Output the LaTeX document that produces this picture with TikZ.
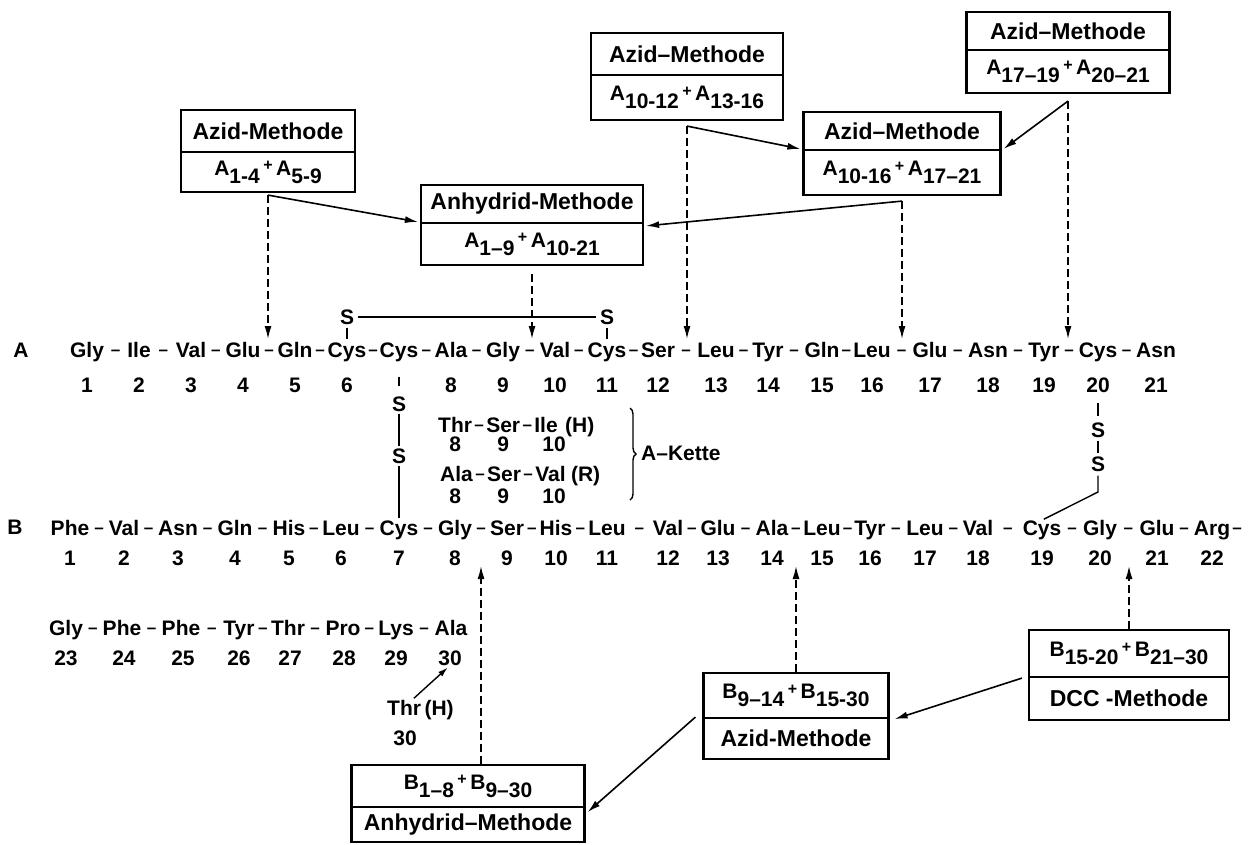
\documentclass[tikz,border=0pt]{standalone}
\usepackage{fontspec}
\setmainfont{Liberation Sans}
\usetikzlibrary{arrows.meta,calc,decorations.pathreplacing}
\newcommand\fsz[1]{\fontsize{#1}{#1}\selectfont}
\newcommand\sbx[2]{#1\raisebox{-0.38em}{#2}}
\newcommand\pl{\,\raisebox{0.2em}{\fsz{16}+}\,}
\newcommand\dsh{\raisebox{1.2pt}{\fsz{17}–}}
\begin{document}
\begin{tikzpicture}[x=1pt,y=-1pt,
  every node/.style={inner sep=0pt, font=\fsz{21}\bfseries},
  rs/.style={anchor=base},
  rw/.style={anchor=base west},
  bxt/.style={draw, line width=2.2pt, minimum width=#1},
  ttl/.style={font=\fsz{23}\bfseries},
  bond/.style={line width=1.4pt, shorten <=3pt, shorten >=3pt},
  arr/.style={line width=1.6pt, -{Latex[length=13pt,width=7pt]}},
  darr/.style={line width=1.5pt, dash pattern=on 8pt off 4pt, -{Latex[length=13pt,width=7pt]}},
  fml/.style={font=\fsz{21}\bfseries}
]
\useasboundingbox (0,0) rectangle (1250,844);

% ---------- chain labels
\node[rs] (lA) at (21,357) {A};
\node[rs] (lB) at (15,534) {B};

% ---------- A chain
\foreach \n/\x [count=\i] in {Gly/87,Ile/139,Val/191,Glu/243,Gln/295,Cys/347,Cys/399,Ala/451,Gly/503,Val/555,Cys/607,Ser/658,Leu/716,Tyr/768,Gln/822,Leu/872,Glu/930,Asn/988,Tyr/1044,Cys/1098,Asn/1156}
  \node[rs] (a\i) at (\x,357) {\n};
\foreach \i in {1,...,20}{
  \pgfmathtruncatemacro\j{\i+1}
  \node[rs] (da\i) at ($(a\i.base east)!0.5!(a\j.base west)$) {\dsh};
}
\foreach \x [count=\i] in {87,139,191,243,295,347,399,451,503,555,607,658,716,768,822,872,930,988,1044,1098,1156}{
  \ifnum\i=7\relax\else\node[rs] (na\i) at (\x,392) {\i};\fi
}

% ---------- B chain
\foreach \n/\x [count=\i] in {Phe/70,Val/124,Asn/178,Gln/235,His/289,Leu/341,Cys/399,Gly/455,Ser/507,His/556,Leu/607,Val/668,Glu/718,Ala/772,Leu/822,Tyr/870,Leu/925,Val/978,Cys/1042,Gly/1100,Glu/1157,Arg/1212}
  \node[rs] (b\i) at (\x,535) {\n};
\foreach \i in {1,...,21}{
  \pgfmathtruncatemacro\j{\i+1}
  \node[rs] (db\i) at ($(b\i.base east)!0.5!(b\j.base west)$) {\dsh};
}
\node[rw] (db22) at ([xshift=2pt]b22.base east) {\dsh};
\foreach \x [count=\i] in {70,124,178,235,289,341,399,455,507,556,607,668,718,772,822,870,925,978,1042,1100,1157,1212}
  \node[rs] (nb\i) at (\x,565) {\i};

% ---------- B chain 23-30
\foreach \n/\x [count=\i] in {Gly/66,Phe/122,Phe/181,Tyr/239,Thr/288,Pro/343,Lys/396,Ala/451}
  \node[rs] (c\i) at (\x,635) {\n};
\foreach \i in {1,...,7}{
  \pgfmathtruncatemacro\j{\i+1}
  \node[rs] (dc\i) at ($(c\i.base east)!0.5!(c\j.base west)$) {\dsh};
}
\foreach \x [count=\i] in {66,124,183,239,290,344,396,450}{
  \pgfmathtruncatemacro\k{\i+22}
  \node[rs] (nc\i) at (\x,665) {\k};
}
\node[rw] (thrH) at (387,715) {Thr\,(H)};
\node[rs] (n30H) at (405,745) {30};
\draw[line width=1.4pt, shorten <=2pt, shorten >=3pt, -{Latex[length=10pt,width=6pt]}] ([xshift=-8pt]thrH.north) -- (nc8.south);

% ---------- variants (A-Kette)
\node[rw] (t1) at (438,432) {Thr};
\node[rw] (dt1) at ([xshift=2pt]t1.base east) {\dsh};
\node[rw] (t2) at ([xshift=2pt]dt1.base east) {Ser};
\node[rw] (dt2) at ([xshift=2pt]t2.base east) {\dsh};
\node[rw] (t3) at ([xshift=2pt]dt2.base east) {Ile};
\node[rw] (tH) at ([xshift=7pt]t3.base east) {(H)};
\node[rw] (r1) at (440,481) {Ala};
\node[rw] (dr1) at ([xshift=2pt]r1.base east) {\dsh};
\node[rw] (r2) at ([xshift=2pt]dr1.base east) {Ser};
\node[rw] (dr2) at ([xshift=2pt]r2.base east) {\dsh};
\node[rw] (r3) at ([xshift=2pt]dr2.base east) {Val};
\node[rw] (rR) at ([xshift=5pt]r3.base east) {(R)};
\node[rs] (nt1) at ([yshift=-19pt]t1.base) {8};
\node[rs] (nt2) at ([yshift=-19pt]t2.base) {9};
\node[rs] (nt3) at ([xshift=8pt,yshift=-19pt]t3.base) {10};
\node[rs] (nr1) at (nt1.base |- 0,503) {8};
\node[rs] (nr2) at (nt2.base |- 0,503) {9};
\node[rs] (nr3) at (nt3.base |- 0,503) {10};
\draw[line width=1.4pt, decorate, decoration={brace, amplitude=6pt}] (630,408) -- (630,500);
\node[anchor=west] (kette) at (641,453) {A–Kette};

% ---------- disulfide bridges
\node (s6) at (347,317) {S};
\node (s11) at (607,317) {S};
\draw[bond] (s6) -- (a6);
\draw[bond] (s11) -- (a11);
\draw[bond, shorten <=4pt, shorten >=4pt] (s6) -- (s11);
\node (s7a) at (399,404) {S};
\node (s7b) at (399,456) {S};
\draw[bond, shorten <=15pt, shorten >=10pt] (a7) -- (s7a);
\draw[bond, shorten <=2pt, shorten >=2pt] (s7a) -- (s7b);
\draw[bond, shorten <=2pt, shorten >=2pt] (s7b) -- (b7);
\node (s20a) at (1098,430) {S};
\node (s20b) at (1098,464) {S};
\draw[bond, shorten <=11pt, shorten >=6pt] (na20) -- (s20a);
\draw[bond] (s20a) -- (s20b);
\coordinate (k20) at (1098,492);
\draw[line width=1.4pt, shorten <=4pt, shorten >=2pt] (s20b) -- (k20) -- (b19.north);

% ---------- top boxes
\node[bxt=174, minimum height=42pt, ttl] (b1t) at (268,131) {Azid-Methode};
\node[bxt=174, minimum height=40pt, fml] (b1b) at (268,172) {\sbx{A}{1-4}\pl\sbx{A}{5-9}};
\node[bxt=222, minimum height=38pt, ttl] (b2t) at (532,204) {Anhydrid-Methode};
\node[bxt=222, minimum height=42pt, fml] (b2b) at (532,244) {\sbx{A}{1–9}\pl\sbx{A}{10-21}};
\node[bxt=192, minimum height=42pt, ttl] (b3t) at (687,54) {Azid–Methode};
\node[bxt=192, minimum height=45pt, fml] (b3b) at (687,97.5) {\sbx{A}{10-12}\pl\sbx{A}{13-16}};
\node[bxt=197, minimum height=38pt, ttl] (b4t) at (902,131) {Azid–Methode};
\node[bxt=197, minimum height=45pt, fml] (b4b) at (902,172.5) {\sbx{A}{10-16}\pl\sbx{A}{17–21}};
\node[bxt=203, minimum height=38pt, ttl] (b5t) at (1068,31) {Azid–Methode};
\node[bxt=203, minimum height=43pt, fml] (b5b) at (1068,71.5) {\sbx{A}{17–19}\pl\sbx{A}{20–21}};

% ---------- bottom boxes
\node[bxt=233, minimum height=42pt, fml] (abt) at (468,786) {\sbx{B}{1–8}\pl\sbx{B}{9–30}};
\node[bxt=233, minimum height=35pt, ttl] (abb) at (468,824.5) {Anhydrid–Methode};
\node[bxt=185, minimum height=45pt, fml] (azt) at (796,695.5) {\sbx{B}{9–14}\pl\sbx{B}{15-30}};
\node[bxt=185, minimum height=41pt, ttl] (azb) at (796,738.5) {Azid-Methode};
\node[bxt=200, minimum height=47pt, fml] (dct) at (1129,653.5) {\sbx{B}{15-20}\pl\sbx{B}{21–30}};
\node[bxt=200, minimum height=43pt, ttl] (dcb) at (1129,698.5) {DCC -Methode};

% ---------- cleavage / coupling points
\coordinate (ta1) at (268,339);
\coordinate (ta2) at (532,339);
\coordinate (ta3) at (687,339);
\coordinate (ta4) at (902,339);
\coordinate (ta5) at (1068,339);
\coordinate (tb1) at (481,566);
\coordinate (tb2) at (796,566);
\coordinate (tb3) at (1129,566);

\draw[darr] ([yshift=-2pt]b1b.south) -- (ta1);
\draw[darr] ([yshift=-8pt]b2b.south) -- (ta2);
\draw[darr] ([yshift=-5pt]b3b.south) -- (ta3);
\draw[darr] ([yshift=-5pt]b4b.south) -- (ta4);
\draw[darr] ([yshift=-7pt]b5b.south) -- (ta5);
\draw[darr] (tb1 |- abt.north) -- (tb1);
\draw[darr] (azt.north) -- (tb2);
\draw[darr] (dct.north) -- (tb3);

\draw[arr] ([yshift=-2pt]b1b.south) -- ([xshift=-2pt]b2b.north west);
\draw[arr] ([yshift=-5pt]b3b.south) -- ([xshift=-2pt]b4b.north west);
\draw[arr] ([yshift=-7pt]b5b.south) -- ([xshift=2pt]b4b.north east);
\draw[arr] ([yshift=-5pt]b4b.south) -- ([xshift=2pt,yshift=-4pt]b2b.north east);
\draw[arr] ([xshift=-6pt]dct.south west) -- ([xshift=5pt]azt.south east);
\draw[arr] ([xshift=-7pt,yshift=2pt]azt.south west) -- ([xshift=2pt,yshift=-4pt]abt.south east);
\end{tikzpicture}
\end{document}
